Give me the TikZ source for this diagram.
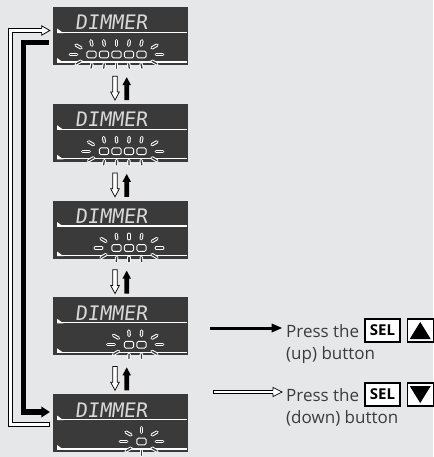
\documentclass[tikz,border=0pt]{standalone}
\usepackage{fontspec}
\setmainfont{Open Sans}
\newfontfamily\lcdfont[FakeSlant=0.12]{DejaVu Sans Mono}
\usetikzlibrary{calc}
\definecolor{bgc}{HTML}{E6E7E8}
\definecolor{lcdc}{HTML}{3A3A3A}
\definecolor{txtc}{HTML}{3C3C3C}
\definecolor{lcdw}{HTML}{D8D8D8}

\tikzset{
  lcdbox/.style={rectangle, fill=lcdc, draw=none, minimum width=135pt, minimum height=58pt, inner sep=0pt},
  lcdtext/.style={font=\lcdfont\fontsize{20}{20}\selectfont, text=lcdw, inner sep=0pt, anchor=base west},
  lcdline/.style={draw=white, line width=1.2pt},
  seg/.style={draw=white, fill=lcdc, line width=0.9pt, rounded corners=1.6pt},
  raybase/.style={white, line width=3.4pt, line cap=round},
  raycore/.style={lcdc, line width=1.3pt, line cap=round},
  hollow/.style={draw=black, fill=white, line width=0.7pt, line join=miter},
  legtext/.style={font=\fontsize{17}{17}\selectfont, text=txtc, inner sep=0pt},
  selbox/.style={rectangle, draw=black, fill=white, line width=1.1pt, minimum width=35pt, minimum height=23pt, inner sep=0pt, font=\bfseries\fontsize{15}{15}\selectfont},
  tribox/.style={rectangle, draw=black, fill=white, line width=1.1pt, minimum width=26pt, minimum height=23pt, inner sep=0pt}
}

\newcommand\lcdray[4]{%
  \pgfmathsetmacro\rayang{#3}%
  \pgfmathsetmacro\rayangb{#3+180}%
  \pgfmathsetmacro\rayx{#1}%
  \pgfmathsetmacro\rayy{#2}%
  \draw[raybase] ($(\rayx,\rayy)+(\rayang:#4pt)$) -- ($(\rayx,\rayy)+(\rayangb:#4pt)$);
  \draw[raycore] ($(\rayx,\rayy)+(\rayang:#4pt)$) -- ($(\rayx,\rayy)+(\rayangb:#4pt)$);
}

\newcommand\lcdpanel[3]{%
  \node[lcdbox] (#1) at (120.5,#2+29) {};
  \node[lcdtext] (#1txt) at (75,#2+23) {DIMMER};
  \draw[lcdline] (57,#2+25.5) -- (187,#2+25.5);
  \fill[white] (57,#2+21.5) -- (57,#2+26.1) -- (63.5,#2+26.1) -- cycle;
  \draw[lcdline] (57,#2+55) -- (187,#2+55);
  \fill[white] (57,#2+51) -- (57,#2+55.6) -- (63.5,#2+55.6) -- cycle;
  \pgfmathsetmacro\pyc{#2+47.5}%
  \pgfmathsetmacro\pxr{141.5}%
  \pgfmathsetmacro\pxl{141.5-12.5*(#3-1)}%
  \pgfmathsetmacro\pxm{(\pxl+\pxr)/2}%
  \lcdray{\pxl-13}{\pyc-8}{150}{2.8}
  \lcdray{\pxl-18}{\pyc}{180}{3.2}
  \lcdray{\pxl-13}{\pyc+8}{210}{2.8}
  \lcdray{\pxr+13}{\pyc-8}{30}{2.8}
  \lcdray{\pxr+18}{\pyc}{0}{3.2}
  \lcdray{\pxr+13}{\pyc+8}{-30}{2.8}
  \foreach \i in {1,...,#3}{%
    \pgfmathsetmacro\sqx{141.5-12.5*(\i-1)}%
    \pgfmathsetmacro\tilt{-0.5*(\sqx-\pxm)}%
    \lcdray{\sqx}{\pyc-11.5}{90+\tilt}{2.2}
    \lcdray{\sqx}{\pyc+11.5}{270-\tilt}{2.2}
    \draw[seg] (\sqx-4.6,\pyc-3.4) rectangle (\sqx+4.6,\pyc+3.4);
  }
}

\begin{document}
\begin{tikzpicture}[x=1pt,y=-1pt]
\fill[bgc] (0,0) rectangle (433,457);
\useasboundingbox (0,0) rectangle (433,457);

\lcdpanel{d1}{7}{5}
\lcdpanel{d2}{103.75}{4}
\lcdpanel{d3}{200.5}{3}
\lcdpanel{d4}{297.25}{2}
\lcdpanel{d5}{394}{1}

% arrows between panels
\foreach \a/\b in {d1/d2,d2/d3,d3/d4,d4/d5}{
  \coordinate (\a w) at ($(\a.south)+(-5.5,11)$);
  \coordinate (\b w) at ($(\b.north)+(-5.5,-3.5)$);
  \draw[hollow] ($(\a w)+(-2.3,0)$) -- ($(\b w)+(-2.3,-8)$) -- ($(\b w)+(-4.3,-8)$) -- (\b w)
     -- ($(\b w)+(4.3,-8)$) -- ($(\b w)+(2.3,-8)$) -- ($(\a w)+(2.3,0)$) -- cycle;
  \coordinate (\a k) at ($(\a.south)+(6.2,12)$);
  \coordinate (\b k) at ($(\b.north)+(6.2,-3.5)$);
  \fill ($(\b k)+(-2.3,0)$) -- ($(\a k)+(-2.3,8)$) -- ($(\a k)+(-4.3,8)$) -- (\a k)
     -- ($(\a k)+(4.3,8)$) -- ($(\a k)+(2.3,8)$) -- ($(\b k)+(2.3,0)$) -- cycle;
}

% white loop (down button): from d5 back to d1
\coordinate (wstart) at ($(d5.west)+(-4,1.5)$);
\coordinate (wtip) at ($(d1.west)+(-3,-5.5)$);
\coordinate (wlx) at (10.5,0);
\draw[black, line width=5.2pt, line join=miter] ($(wstart)+(0.8,0)$) -- (wstart -| wlx) -- (wtip -| wlx) -- ($(wtip)+(-8,0)$);
\draw[white, line width=3.6pt, line join=miter] (wstart) -- (wstart -| wlx) -- (wtip -| wlx) -- ($(wtip)+(-8,0)$);
\fill[white] ($(wtip)+(-8,-4.6)$) -- (wtip) -- ($(wtip)+(-8,4.6)$) -- cycle;
\draw[black, line width=0.8pt, line join=miter] ($(wtip)+(-8,-2.2)$) -- ($(wtip)+(-8,-4.6)$) -- (wtip) -- ($(wtip)+(-8,4.6)$) -- ($(wtip)+(-8,2.2)$);

% black loop (up button): from d1 to d5
\coordinate (bstart) at ($(d1.west)+(-4,6.5)$);
\coordinate (btip) at ($(d5.west)+(-3,-11)$);
\coordinate (blx) at (23.5,0);
\draw[black, line width=5.5pt, line join=miter] (bstart) -- (bstart -| blx) -- (btip -| blx) -- ($(btip)+(-8,0)$);
\fill ($(btip)+(-8.5,-5.6)$) -- (btip) -- ($(btip)+(-8.5,5.6)$) -- cycle;

% legend
\node[legtext, anchor=base west] (p1) at (286,337) {Press the};
\node[selbox] (sel1) at (382.5,330.5) {SEL};
\node[tribox] (tri1) at (420.2,330.5) {};
\fill ($(tri1.center)+(0,-8.5)$) -- ($(tri1.center)+(10.5,8.5)$) -- ($(tri1.center)+(-10.5,8.5)$) -- cycle;
\node[legtext, anchor=base west] (u1) at (286,359) {(up) button};

\node[legtext, anchor=base west] (p2) at (286,401) {Press the};
\node[selbox] (sel2) at (382.5,394.5) {SEL};
\node[tribox] (tri2) at (420.2,394.5) {};
\fill ($(tri2.center)+(0,8.5)$) -- ($(tri2.center)+(10.5,-8.5)$) -- ($(tri2.center)+(-10.5,-8.5)$) -- cycle;
\node[legtext, anchor=base west] (u2) at (286,423) {(down) button};

\coordinate (lbs) at (210,328);
\coordinate (lbt) at ($(p1.base west)+(-4,-9)$);
\draw[black, line width=3pt] (lbs) -- ($(lbt)+(-9,0)$);
\fill ($(lbt)+(-10.5,-4.6)$) -- (lbt) -- ($(lbt)+(-10.5,4.6)$) -- cycle;

\coordinate (lws) at (214,392);
\coordinate (lwt) at ($(p2.base west)+(-4,-9)$);
\draw[black, line width=4pt] ($(lws)+(-0.7,0)$) -- ($(lwt)+(-8,0)$);
\draw[white, line width=2.6pt] (lws) -- ($(lwt)+(-8,0)$);
\fill[white] ($(lwt)+(-9,-4.6)$) -- (lwt) -- ($(lwt)+(-9,4.6)$) -- cycle;
\draw[black, line width=0.7pt, line join=miter] ($(lwt)+(-9,-1.7)$) -- ($(lwt)+(-9,-4.6)$) -- (lwt) -- ($(lwt)+(-9,4.6)$) -- ($(lwt)+(-9,1.7)$);
\end{tikzpicture}
\end{document}
